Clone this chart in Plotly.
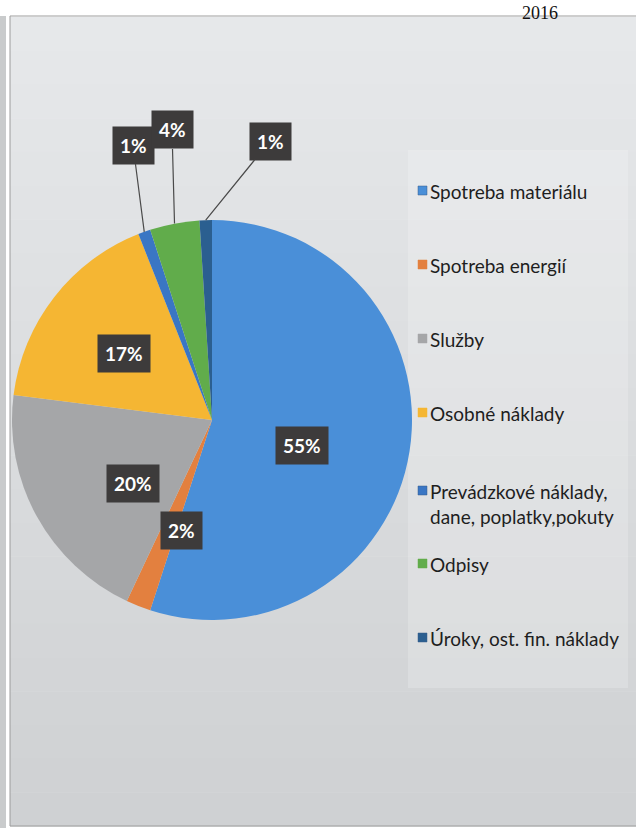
import math
import plotly.graph_objects as go

# ---------------- data ----------------
categories = [
    "Spotreba materiálu",
    "Spotreba energií",
    "Služby",
    "Osobné náklady",
    "Prevádzkové náklady,<br>dane, poplatky,pokuty",
    "Odpisy",
    "Úroky, ost. fin. náklady",
]
values = [55, 2, 20, 17, 1, 4, 1]
colors = ["#4a8fd8", "#e3803f", "#a5a6a8", "#f5b633", "#3a76c4", "#61ac4b", "#2b5f90"]
year_label = "2016"

# ---------------- layout helpers ----------------
W, H = 636, 830
def px(x):
    return x / W
def py(y):
    return 1 - y / H

CX, CY, R = 212, 420, 200   # pie centre / radius in pixels

FONT = "Lato, 'DejaVu Sans Condensed', 'Liberation Sans Narrow', Roboto, sans-serif"

fig = go.Figure()

fig.add_trace(go.Pie(
    labels=categories,
    values=values,
    sort=False,
    direction="clockwise",
    rotation=0,
    marker=dict(colors=colors, line=dict(width=0)),
    textinfo="none",
    hoverinfo="label+percent",
    showlegend=False,
    domain=dict(x=[px(CX - R), px(CX + R)], y=[py(CY + R), py(CY - R)]),
))

shapes = []
# background pieces (scanned page look)
shapes.append(dict(type="rect", xref="paper", yref="paper", x0=0, x1=1, y0=0, y1=1,
                   fillcolor="#ffffff", line=dict(width=0), layer="below"))
shapes.append(dict(type="rect", xref="paper", yref="paper", x0=px(0), x1=px(6), y0=py(828), y1=py(16),
                   fillcolor="#c9cbcc", line=dict(width=0), layer="below"))
# panel with a soft vertical gradient made of thin bands
top, bottom = 17, 826
n = 24
c0 = (0xe6, 0xe8, 0xea)
c1 = (0xcf, 0xd1, 0xd3)
for k in range(n):
    y0 = top + (bottom - top) * k / n
    y1 = top + (bottom - top) * (k + 1) / n
    t = k / (n - 1)
    c = tuple(round(c0[j] + (c1[j] - c0[j]) * t) for j in range(3))
    shapes.append(dict(type="rect", xref="paper", yref="paper", x0=px(10), x1=px(636),
                       y0=py(y1 + 0.5), y1=py(y0),
                       fillcolor="rgb(%d,%d,%d)" % c, line=dict(width=0), layer="below"))
shapes.append(dict(type="rect", xref="paper", yref="paper", x0=px(10), x1=px(640), y0=py(826), y1=py(16),
                   fillcolor="rgba(0,0,0,0)", line=dict(color="#9c9c9c", width=1), layer="below"))
shapes.append(dict(type="rect", xref="paper", yref="paper", x0=px(408), x1=px(628), y0=py(688), y1=py(150),
                   fillcolor="rgba(255,255,255,0.2)", line=dict(width=0), layer="below"))

annotations = []

# percentage label boxes
pct = [round(100 * v / sum(values)) for v in values]
label_pos = {  # box centres in pixels
    0: (302, 445),
    1: (181, 530),
    2: (133, 483),
    3: (124, 353),
}
leader_pos = {  # boxes with leader lines
    4: (133, 145),
    5: (172, 130),
    6: (270, 141),
}
box_style = dict(bgcolor="#3d3b3b", font=dict(family=FONT, size=19, color="white", weight="bold"),
                 borderpad=7, xref="paper", yref="paper", xanchor="center", yanchor="middle")
for i, (bx, by) in label_pos.items():
    annotations.append(dict(x=px(bx), y=py(by), text=f"{pct[i]}%", showarrow=False, **box_style))

cum = 0
total = sum(values)
mids = []
for v in values:
    mids.append((cum + v / 2) / total * 2 * math.pi)
    cum += v
for i, (bx, by) in leader_pos.items():
    a = mids[i]
    tx = CX + R * math.sin(a)
    ty = CY - R * math.cos(a)
    annotations.append(dict(x=px(tx), y=py(ty), text=f"{pct[i]}%", showarrow=True,
                            arrowhead=0, arrowwidth=1.2, arrowcolor="#4a4a4a", standoff=0,
                            ax=bx - tx, ay=by - ty, axref="pixel", ayref="pixel", **box_style))

# legend (manual, to match spacing)
legend_y = [190, 264, 338, 412, 490, 563, 637]
for i, (lab, col) in enumerate(zip(categories, colors)):
    y = legend_y[i]
    shapes.append(dict(type="rect", xref="paper", yref="paper",
                       x0=px(418), x1=px(427), y0=py(y + 5), y1=py(y - 4),
                       fillcolor=col, line=dict(color="#3a5f8a" if i in (0, 4, 6) else col, width=0.5)))
    annotations.append(dict(x=px(428), y=py(y - 12), text=lab, showarrow=False,
                            xref="paper", yref="paper", xanchor="left", yanchor="top", align="left",
                            font=dict(family=FONT, size=19, color="#1e1e1e")))

# year title (at page top)
annotations.append(dict(x=px(540), y=py(13), text=year_label, showarrow=False,
                        xref="paper", yref="paper", xanchor="center", yanchor="middle",
                        font=dict(family="'Liberation Serif', 'DejaVu Serif', serif", size=18, color="#111")))

fig.update_layout(
    width=W, height=H,
    margin=dict(l=0, r=0, t=0, b=0),
    paper_bgcolor="#ffffff",
    plot_bgcolor="#ffffff",
    shapes=shapes,
    annotations=annotations,
    showlegend=False,
)

fig.write_html("out.html")
